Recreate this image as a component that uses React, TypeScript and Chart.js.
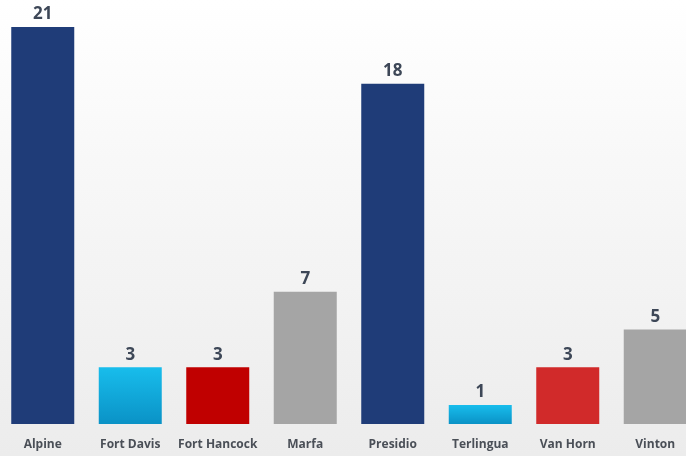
import React, { useEffect, useRef } from "react";
import { Chart, registerables } from "chart.js";

Chart.register(...registerables);

const categories = ["Alpine", "Fort Davis", "Fort Hancock", "Marfa", "Presidio", "Terlingua", "Van Horn", "Vinton"];
const values = [21, 3, 3, 7, 18, 1, 3, 5];
const colorKeys = ["navy", "cyan", "red", "gray", "navy", "cyan", "red2", "gray"];

export default function App() {
  const ref = useRef<HTMLCanvasElement | null>(null);
  useEffect(() => {
    const canvas = ref.current!;
    const bgPlugin = {
      id: "bg",
      beforeDraw(chart: any) {
        const { ctx, width, height } = chart;
        const g = ctx.createLinearGradient(0, 0, 0, height);
        g.addColorStop(0, "#ffffff");
        g.addColorStop(0.35, "#f8f8f8");
        g.addColorStop(1, "#ececec");
        ctx.save();
        ctx.fillStyle = g;
        ctx.fillRect(0, 0, width, height);
        ctx.restore();
      },
    };
    const labelPlugin = {
      id: "vals",
      afterDatasetsDraw(chart: any) {
        const { ctx } = chart;
        const meta = chart.getDatasetMeta(0);
        ctx.save();
        ctx.font = "bold 17px 'Open Sans', sans-serif";
        ctx.fillStyle = "#3d4757";
        ctx.textAlign = "center";
        ctx.textBaseline = "bottom";
        meta.data.forEach((el: any, i: number) => {
          ctx.fillText(String(values[i]), el.x, el.y - 4);
        });
        ctx.restore();
      },
    };
    const colorFor = (ctx: any) => {
      const key = colorKeys[ctx.dataIndex];
      const chart = ctx.chart;
      const area = chart.chartArea;
      if (key === "navy") return "#1f3c78";
      if (key === "red") return "#c00000";
      if (key === "red2") return "#d12a2a";
      if (key === "gray") return "#a5a5a5";
      const ys = chart.scales && chart.scales.y;
      if (!area || !ys) return "#12a8dc";
      const top = ys.getPixelForValue(values[ctx.dataIndex]);
      const bottom = area.bottom;
      if (!isFinite(top) || !isFinite(bottom) || bottom <= top) return "#12a8dc";
      const g = chart.ctx.createLinearGradient(0, top, 0, bottom);
      g.addColorStop(0, "#18bdec");
      g.addColorStop(1, "#0a92c6");
      return g;
    };
    const chart = new Chart(canvas, {
      type: "bar",
      data: {
        labels: categories,
        datasets: [
          {
            data: values,
            backgroundColor: colorFor as any,
            barPercentage: 0.72,
            categoryPercentage: 1,
          },
        ],
      },
      options: {
        animation: false,
        responsive: true,
        maintainAspectRatio: false,
        layout: { padding: { top: 8, left: 0, right: 0, bottom: 0 } },
        plugins: { legend: { display: false }, tooltip: { enabled: false } },
        scales: {
          x: {
            grid: { display: false, drawTicks: false },
            border: { display: false },
            ticks: {
              color: "#4a4f57",
              font: { family: "'Open Sans', sans-serif", size: 12, weight: "bold" },
              padding: 13,
              maxRotation: 0,
              autoSkip: false,
            },
            afterFit(scale: any) {
              scale.height = 32;
            },
          },
          y: {
            display: false,
            min: 0,
            max: 22,
          },
        },
      },
      plugins: [bgPlugin, labelPlugin],
    });
    return () => chart.destroy();
  }, []);
  return (
    <div style={{ position: "fixed", left: 0, top: 0, width: 686, height: 456, overflow: "hidden" }}>
      <div style={{ position: "absolute", left: -1, top: 0, width: 700, height: 456 }}>
        <canvas ref={ref} />
      </div>
    </div>
  );
}
